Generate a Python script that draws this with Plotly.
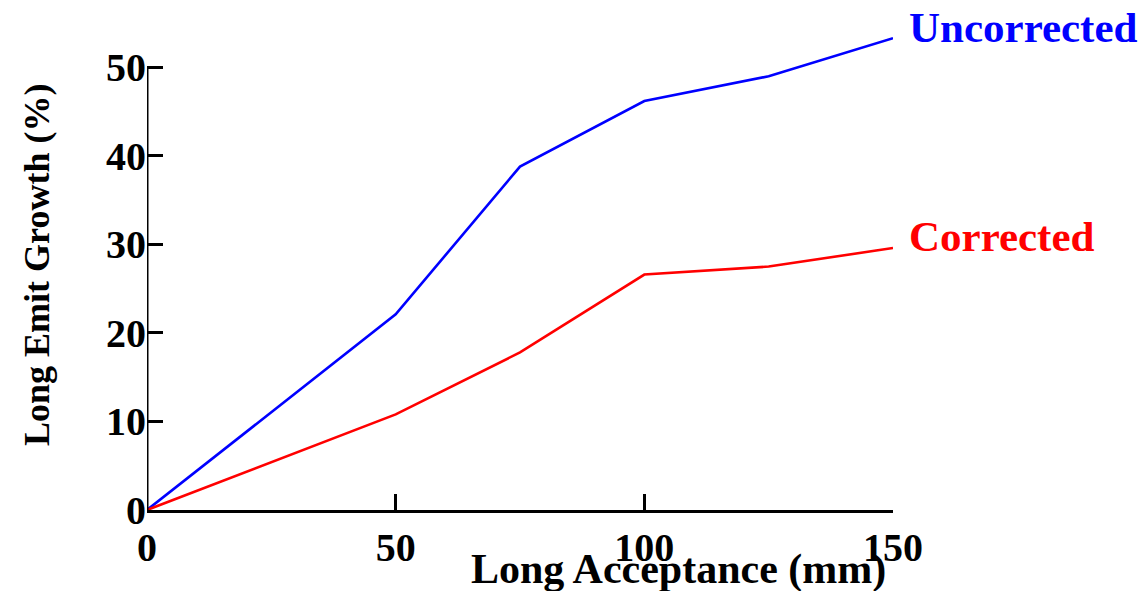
import plotly.graph_objects as go

acceptance = [0, 50, 75, 100, 125, 150]
uncorrected = [0, 22.1, 38.8, 46.2, 49.0, 53.3]
corrected = [0, 10.8, 17.8, 26.6, 27.5, 29.6]
x_ticks = [0, 50, 100, 150]
y_ticks = [0, 10, 20, 30, 40, 50]

FONT = "Liberation Serif"

fig = go.Figure()
fig.add_trace(go.Scatter(x=acceptance, y=uncorrected, mode="lines",
                         line=dict(color="#0000ff", width=2.6), name="Uncorrected"))
fig.add_trace(go.Scatter(x=acceptance, y=corrected, mode="lines",
                         line=dict(color="#ff0000", width=2.6), name="Corrected"))

# y axis spine only up to last tick
fig.add_shape(type="line", xref="x", yref="y", x0=0, x1=0, y0=0, y1=y_ticks[-1],
              line=dict(color="black", width=3), layer="above")

fig.add_annotation(x=acceptance[-1], y=uncorrected[-1], text="<b>Uncorrected</b>",
                   xanchor="left", yanchor="middle", xshift=14, yshift=11, showarrow=False,
                   font=dict(family=FONT, size=43, color="#0000ff"))
fig.add_annotation(x=acceptance[-1], y=corrected[-1], text="<b>Corrected</b>",
                   xanchor="left", yanchor="middle", xshift=14, yshift=11, showarrow=False,
                   font=dict(family=FONT, size=43, color="#ff0000"))

fig.add_annotation(xref="paper", yref="paper", x=0.712, y=-0.125, text="<b>Long Acceptance (mm)</b>",
                   xanchor="center", yanchor="middle", showarrow=False,
                   font=dict(family=FONT, size=42, color="black"))
fig.add_annotation(xref="paper", yref="paper", x=-0.1475, y=0.5126, text="<b>Long Emit Growth (%)</b>",
                   xanchor="center", yanchor="middle", showarrow=False, textangle=-90,
                   font=dict(family=FONT, size=36, color="black"))

fig.update_layout(
    width=1146, height=591,
    margin=dict(l=147, r=253, t=32, b=81),
    paper_bgcolor="white", plot_bgcolor="white",
    showlegend=False,
    font=dict(family=FONT, size=40, color="black"),
    xaxis=dict(range=[0, 150], tickvals=x_ticks, ticktext=[f"<b>{v}</b>" for v in x_ticks],
               ticks="inside", ticklen=16, tickwidth=3, tickcolor="black",
               showline=True, linecolor="black", linewidth=3, showgrid=False, zeroline=False,
               ticklabelstandoff=0),
    yaxis=dict(range=[0, 54], tickvals=y_ticks, ticktext=[f"<b>{v}</b>" for v in y_ticks],
               ticks="inside", ticklen=16, tickwidth=3, tickcolor="black",
               showline=False, showgrid=False, zeroline=False, ticklabelstandoff=0),
)

fig.write_html("out.html")
